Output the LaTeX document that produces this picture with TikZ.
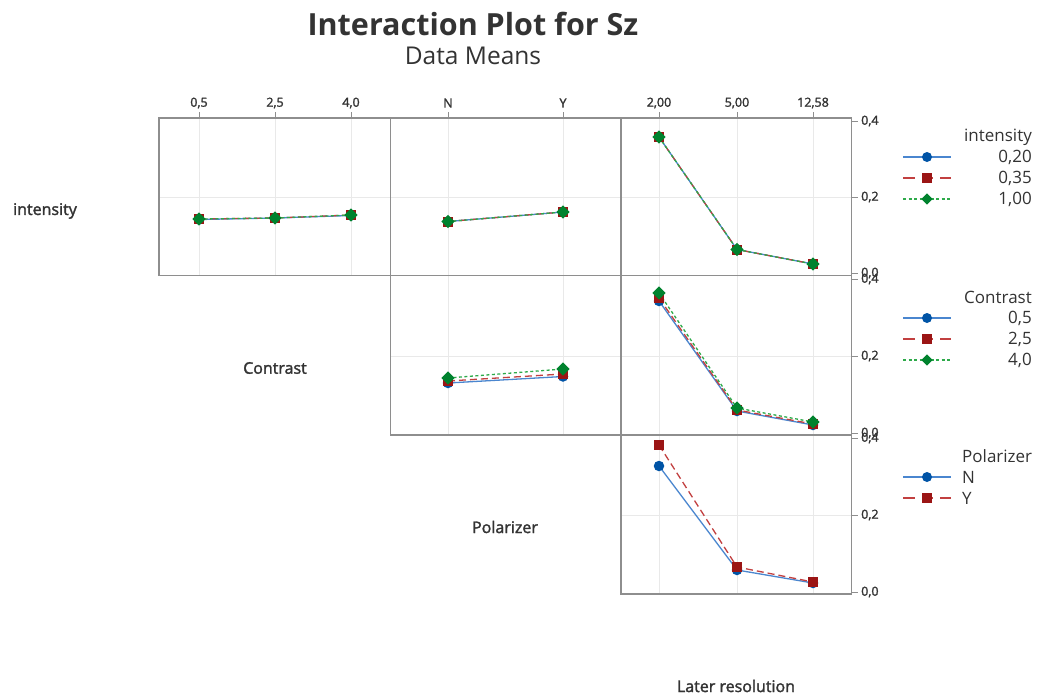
\documentclass[tikz,border=0pt]{standalone}
\usepackage{fontspec}
\setmainfont{Open Sans}
\newfontfamily\semib[FakeBold=1.8]{Open Sans}
\usetikzlibrary{shapes.geometric}
\definecolor{txt}{HTML}{333333}
\definecolor{framec}{HTML}{8E8E8E}
\definecolor{gridc}{HTML}{E9E9E9}
\definecolor{bmk}{HTML}{0054A6}
\definecolor{bln}{HTML}{4A86CF}
\definecolor{rmk}{HTML}{9B1515}
\definecolor{rln}{HTML}{C24040}
\definecolor{gmk}{HTML}{00822E}
\definecolor{gln}{HTML}{2EAA4A}
\begin{document}
\begin{tikzpicture}[x=1pt,y=-1pt,
  bline/.style={bln, line width=1.3pt},
  rline/.style={rln, line width=1.3pt, dash pattern=on 7pt off 4pt},
  gline/.style={gln, line width=1.3pt, dash pattern=on 3pt off 2.5pt},
  bmark/.style={circle, fill=bmk, inner sep=0pt, minimum size=10.5pt},
  rmark/.style={rectangle, fill=rmk, inner sep=0pt, minimum size=10pt},
  gmark/.style={diamond, fill=gmk, inner sep=0pt, minimum size=13.5pt},
  lbmark/.style={circle, fill=bmk, inner sep=0pt, minimum size=10pt},
  lrmark/.style={rectangle, fill=rmk, inner sep=0pt, minimum size=9.5pt},
  lgmark/.style={diamond, fill=gmk, inner sep=0pt, minimum size=11.5pt},
  frame/.style={framec, line width=1.2pt},
  gridl/.style={gridc, line width=0.8pt},
  tickl/.style={framec, line width=1pt},
  ticklab/.style={text=txt, font=\semib\fontsize{12.5}{14}\selectfont, inner sep=0pt},
  axlab/.style={text=txt, font=\semib\fontsize{16}{19}\selectfont, inner sep=0pt},
  legtitle/.style={text=txt, font=\fontsize{17}{20}\selectfont, inner sep=0pt},
  legval/.style={text=txt, font=\fontsize{17}{20}\selectfont, inner sep=0pt},
]
\useasboundingbox (0,0) rectangle (1038,697);
\fill[white] (0,0) rectangle (1038,697);

% title
\node[text=txt, font=\bfseries\fontsize{30.5}{36}\selectfont, inner sep=0pt] (title) at (473,24) {Interaction Plot for Sz};
\node[text=txt, font=\fontsize{24.5}{28}\selectfont, inner sep=0pt] (subtitle) at (473,56) {Data Means};

% grid lines
\foreach \x in {199,275,351,448,563,659,737,813} \draw[gridl] (\x,118) -- (\x,275.5);
\foreach \x in {448,563,659,737,813} \draw[gridl] (\x,275.5) -- (\x,435);
\foreach \x in {659,737,813} \draw[gridl] (\x,435) -- (\x,594);
\draw[gridl] (159,197) -- (851.5,197);
\draw[gridl] (390.5,356) -- (851.5,356);
\draw[gridl] (621,515) -- (851.5,515);

% frames
\draw[frame] (159,118) rectangle (851.5,275.5);
\draw[frame] (390.5,118) -- (390.5,275.5);
\draw[frame] (621,118) -- (621,275.5);
\draw[frame] (390.5,275.5) rectangle (851.5,435);
\draw[frame] (621,275.5) -- (621,435);
\draw[frame] (621,435) rectangle (851.5,594);

% top ticks and labels
\foreach \x/\t in {199/{0,5},275/{2,5},351/{4,0},448/N,563/Y,659/{2,00},737/{5,00},813/{12,58}}{
  \draw[tickl] (\x,112) -- (\x,118);
  \node[ticklab] at (\x,103) {\t};
}
% right ticks and labels
\foreach \y/\t in {121/{0,4},197/{0,2},273/{0,0},279/{0,4},356/{0,2},433/{0,0},438/{0,4},515/{0,2},592/{0,0}}{
  \draw[tickl] (851.5,\y) -- (858,\y);
  \node[ticklab, anchor=west] at (861,\y) {\t};
}

% axis labels
\node[axlab] (lint) at (45,211) {intensity};
\node[axlab] (lcon) at (275,368) {Contrast};
\node[axlab] (lpol) at (505,527) {Polarizer};
\node[axlab] (llat) at (736,686) {Later resolution};

% ---------- Row 1, col 1 (x = Contrast) ----------
\coordinate (b11a) at (199,219.5); \coordinate (b11b) at (275,218); \coordinate (b11c) at (351,215.5);
\coordinate (r11a) at (199,219); \coordinate (r11b) at (275,218); \coordinate (r11c) at (351,215);
\coordinate (g11a) at (199,219); \coordinate (g11b) at (275,218); \coordinate (g11c) at (351,215);
% Row 1, col 2 (x = Polarizer)
\coordinate (b12a) at (448,221.5); \coordinate (b12b) at (563,212);
\coordinate (r12a) at (448,221.5); \coordinate (r12b) at (563,212);
\coordinate (g12a) at (448,221.5); \coordinate (g12b) at (563,212);
% Row 1, col 3 (x = Later resolution)
\coordinate (b13a) at (659,137); \coordinate (b13b) at (737,249.5); \coordinate (b13c) at (813,264);
\coordinate (r13a) at (659,137); \coordinate (r13b) at (737,249.5); \coordinate (r13c) at (813,264);
\coordinate (g13a) at (659,137); \coordinate (g13b) at (737,249.5); \coordinate (g13c) at (813,264);
% Row 2, col 2
\coordinate (b22a) at (448,383); \coordinate (b22b) at (563,376.5);
\coordinate (r22a) at (448,381); \coordinate (r22b) at (563,374);
\coordinate (g22a) at (448,378); \coordinate (g22b) at (563,369);
% Row 2, col 3
\coordinate (b23a) at (659,301); \coordinate (b23b) at (737,411); \coordinate (b23c) at (813,425);
\coordinate (r23a) at (659,298); \coordinate (r23b) at (737,410); \coordinate (r23c) at (813,424);
\coordinate (g23a) at (659,293); \coordinate (g23b) at (737,408); \coordinate (g23c) at (813,422);
% Row 3, col 3
\coordinate (b33a) at (659,466); \coordinate (b33b) at (737,570); \coordinate (b33c) at (813,583);
\coordinate (r33a) at (659,445); \coordinate (r33b) at (737,567); \coordinate (r33c) at (813,582);

% lines
\draw[bline] (b11a) -- (b11b) -- (b11c);
\draw[rline] (r11a) -- (r11b) -- (r11c);
\draw[gline] (g11a) -- (g11b) -- (g11c);
\draw[bline] (b12a) -- (b12b);
\draw[rline] (r12a) -- (r12b);
\draw[gline] (g12a) -- (g12b);
\draw[bline] (b13a) -- (b13b) -- (b13c);
\draw[rline] (r13a) -- (r13b) -- (r13c);
\draw[gline] (g13a) -- (g13b) -- (g13c);
\draw[bline] (b22a) -- (b22b);
\draw[rline] (r22a) -- (r22b);
\draw[gline] (g22a) -- (g22b);
\draw[bline] (b23a) -- (b23b) -- (b23c);
\draw[rline] (r23a) -- (r23b) -- (r23c);
\draw[gline] (g23a) -- (g23b) -- (g23c);
\draw[bline] (b33a) -- (b33b) -- (b33c);
\draw[rline] (r33a) -- (r33b) -- (r33c);

% markers
\foreach \p in {b11a,b11b,b11c,b12a,b12b,b13a,b13b,b13c,b22a,b22b,b23a,b23b,b23c,b33a,b33b,b33c}
  \node[bmark] at (\p) {};
\foreach \p in {r11a,r11b,r11c,r12a,r12b,r13a,r13b,r13c,r22a,r22b,r23a,r23b,r23c,r33a,r33b,r33c}
  \node[rmark] at (\p) {};
\foreach \p in {g11a,g11b,g11c,g12a,g12b,g13a,g13b,g13c,g22a,g22b,g23a,g23b,g23c}
  \node[gmark] at (\p) {};

% ---------- legends ----------
% intensity
\node[legtitle, anchor=east] (lt1) at (1032,137) {intensity};
\coordinate (l1a) at (903,157); \coordinate (l1b) at (951,157);
\coordinate (l2a) at (903,178); \coordinate (l2b) at (951,178);
\coordinate (l3a) at (903,199); \coordinate (l3b) at (951,199);
\draw[bline] (l1a) -- (l1b); \node[lbmark] at (927,157) {};
\draw[rline, dash pattern=on 12pt off 7pt on 11pt off 7pt] (l2a) -- (l2b); \node[lrmark] at (927,178) {};
\draw[gline] (l3a) -- (l3b); \node[lgmark] at (927,199) {};
\node[legval, anchor=east] at (1032,157) {0,20};
\node[legval, anchor=east] at (1032,178) {0,35};
\node[legval, anchor=east] at (1032,199) {1,00};
% Contrast
\node[legtitle, anchor=east] (lt2) at (1032,297) {Contrast};
\coordinate (m1a) at (903,318); \coordinate (m1b) at (951,318);
\coordinate (m2a) at (903,339); \coordinate (m2b) at (951,339);
\coordinate (m3a) at (903,360); \coordinate (m3b) at (951,360);
\draw[bline] (m1a) -- (m1b); \node[lbmark] at (927,318) {};
\draw[rline, dash pattern=on 12pt off 7pt on 11pt off 7pt] (m2a) -- (m2b); \node[lrmark] at (927,339) {};
\draw[gline] (m3a) -- (m3b); \node[lgmark] at (927,360) {};
\node[legval, anchor=east] at (1032,318) {0,5};
\node[legval, anchor=east] at (1032,339) {2,5};
\node[legval, anchor=east] at (1032,360) {4,0};
% Polarizer
\node[legtitle, anchor=west] (lt3) at (962,456) {Polarizer};
\coordinate (n1a) at (903,477); \coordinate (n1b) at (951,477);
\coordinate (n2a) at (903,498); \coordinate (n2b) at (951,498);
\draw[bline] (n1a) -- (n1b); \node[lbmark] at (927,477) {};
\draw[rline, dash pattern=on 12pt off 7pt on 11pt off 7pt] (n2a) -- (n2b); \node[lrmark] at (927,498) {};
\node[legval, anchor=west] at (962,477) {N};
\node[legval, anchor=west] at (962,498) {Y};
\end{tikzpicture}
\end{document}
